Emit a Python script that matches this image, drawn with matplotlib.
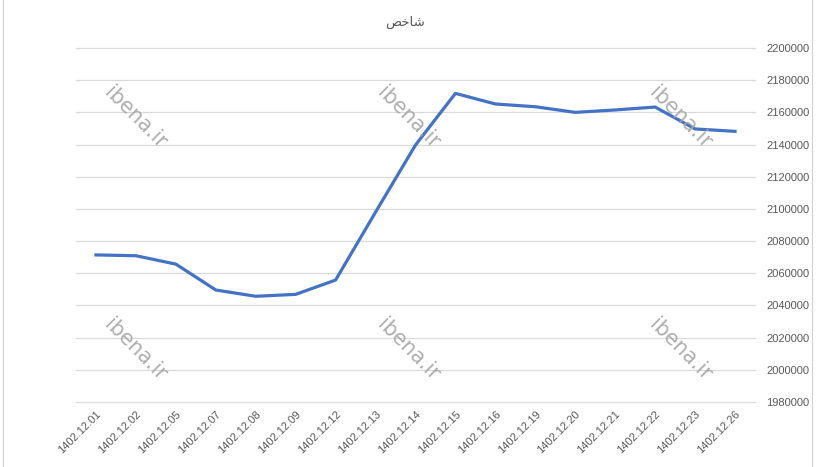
import matplotlib.pyplot as plt
from matplotlib.lines import Line2D

# data
dates = ['1402.12.01', '1402.12.02', '1402.12.05', '1402.12.07', '1402.12.08',
         '1402.12.09', '1402.12.12', '1402.12.13', '1402.12.14', '1402.12.15',
         '1402.12.16', '1402.12.19', '1402.12.20', '1402.12.21', '1402.12.22',
         '1402.12.23', '1402.12.26']
index_values = [2071400, 2070900, 2065700, 2049600, 2045700, 2046900, 2055800,
                2098000, 2139700, 2171800, 2165200, 2163500, 2160000, 2161500,
                2163300, 2149700, 2148200]
y_ticks = list(range(1980000, 2200001, 20000))

# title "شاخص" in presentation forms, visual order (no shaping in matplotlib)
title = '\uFEBA\uFEA7\uFE8E\uFEB7'

fig = plt.figure(figsize=(8.19, 4.67), dpi=100)
ax = fig.add_axes([76 / 819, 1 - 402 / 467, (755 - 76) / 819, (402 - 48) / 467])

x = list(range(len(dates)))
ax.plot(x, index_values, color='#4472C4', linewidth=2.3, solid_joinstyle='round', zorder=3)

ax.set_xlim(-0.5, len(dates) - 0.5)
ax.set_ylim(1980000, 2200000)
ax.set_yticks(y_ticks)
ax.set_yticklabels([str(v) for v in y_ticks], family='Liberation Sans')
ax.yaxis.tick_right()
ax.set_xticks(x)
ax.set_xticklabels(dates, rotation=45, ha='right', va='top', rotation_mode='anchor',
                   family='Liberation Sans')

for v in y_ticks:
    ax.axhline(v, color='#d9d9d9', linewidth=0.9, clip_on=False, zorder=1)
for s in ax.spines.values():
    s.set_visible(False)
ax.tick_params(axis='both', length=0, labelsize=8, colors='#595959')
ax.tick_params(axis='y', pad=8)
ax.tick_params(axis='x', pad=5)

fig.text(405 / 819, 1 - 22 / 467, title, ha='center', va='center', fontsize=9.5,
         color='#595959', family='DejaVu Sans')

# watermarks
for wx in [135, 408, 680]:
    for wy in [118, 350]:
        fig.text(wx / 819, 1 - wy / 467, 'ibena.ir', rotation=-45, ha='center', va='center',
                 fontsize=15, color='#a6a6a6', alpha=0.9, zorder=5)

# faint sheet border
fig.add_artist(Line2D([3 / 819, 3 / 819], [0, 1], color='#d0d0d0', linewidth=0.8))
fig.add_artist(Line2D([812 / 819, 812 / 819], [0, 1], color='#d0d0d0', linewidth=0.8))

fig.savefig('out.png', dpi=100)
